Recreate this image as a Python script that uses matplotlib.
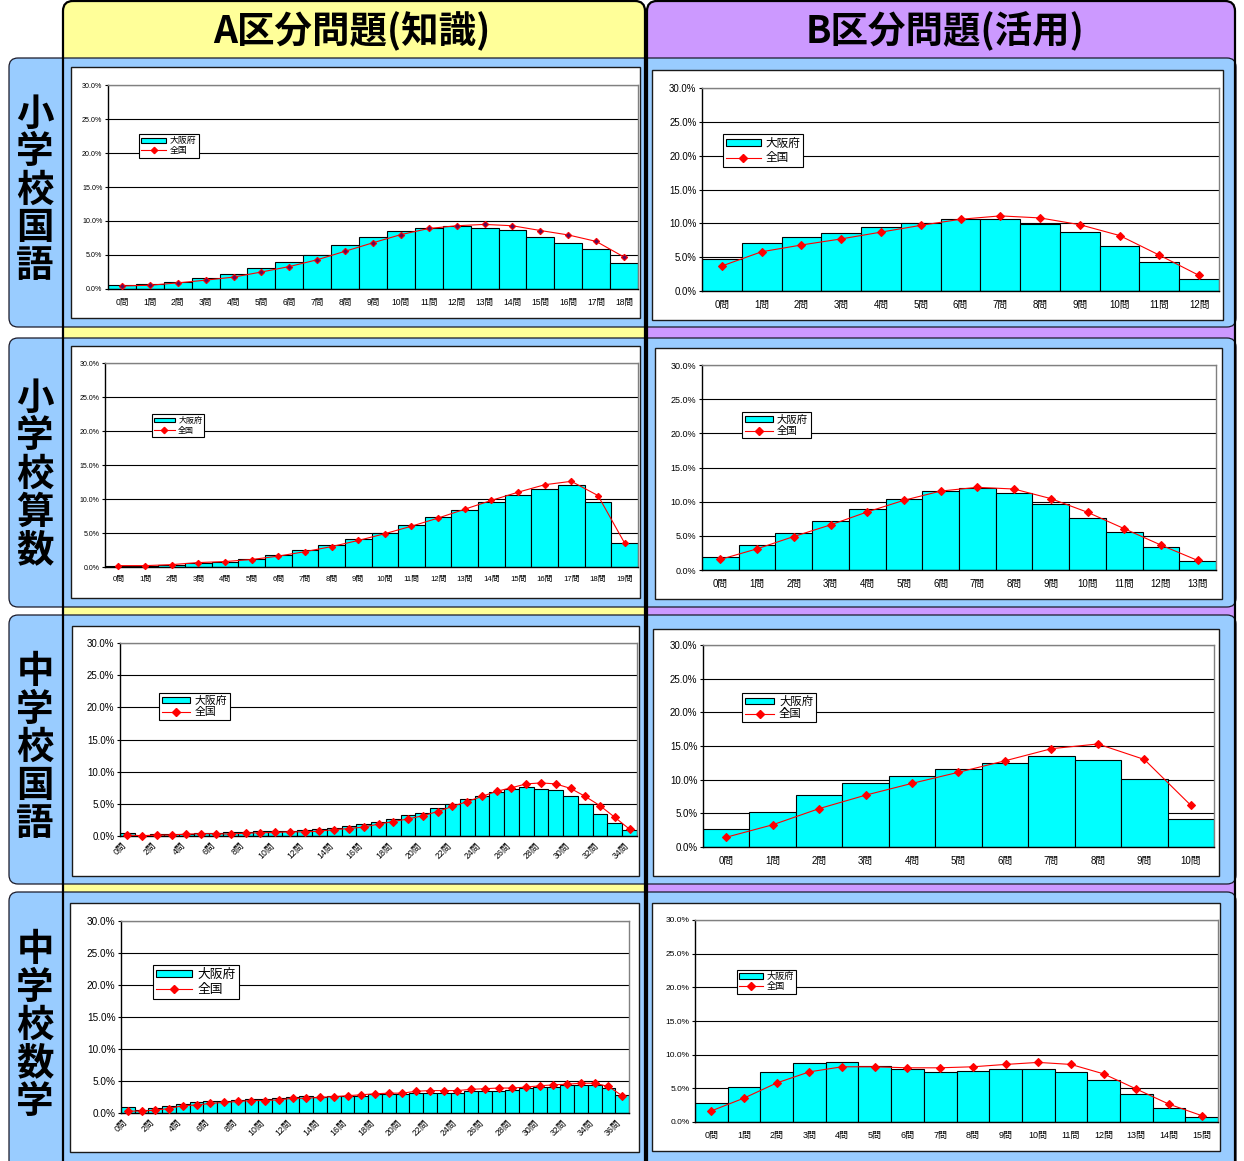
import matplotlib
matplotlib.use("Agg")
import matplotlib.pyplot as plt
from matplotlib import font_manager
from matplotlib.patches import FancyBboxPatch, Rectangle, Patch
from matplotlib.lines import Line2D
from matplotlib.ticker import FixedLocator, FuncFormatter
from matplotlib.transforms import ScaledTranslation
import numpy as np

# ---------------- data (percent of students by number of correct answers) ----------------
col_titles = ["A区分問題(知識)", "B区分問題(活用)"]
row_titles = ["小学校国語", "小学校算数", "中学校国語", "中学校数学"]
series_names = ["大阪府", "全国"]
y_ticks = [0, 5, 10, 15, 20, 25, 30]

# 小学校国語 A (0..18問)
es_ja_a_osaka = [0.6, 0.8, 1.1, 1.6, 2.2, 3.1, 4.0, 5.0, 6.4, 7.6, 8.5, 9.0, 9.2, 9.0, 8.7, 7.7, 6.8, 5.85, 3.8]
es_ja_a_nation = [0.45, 0.55, 0.9, 1.3, 1.75, 2.5, 3.3, 4.3, 5.55, 6.8, 8.0, 8.9, 9.3, 9.5, 9.3, 8.6, 7.95, 7.0, 4.7]
# 小学校国語 B (0..12問)
es_ja_b_osaka = [4.8, 7.1, 8.0, 8.5, 9.4, 10.1, 10.6, 10.6, 9.9, 8.7, 6.7, 4.3, 1.7]
es_ja_b_nation = [3.7, 5.8, 6.8, 7.7, 8.7, 9.7, 10.6, 11.1, 10.8, 9.8, 8.2, 5.3, 2.3]
# 小学校算数 A (0..19問)
es_ma_a_osaka = [0.2, 0.2, 0.3, 0.6, 0.8, 1.2, 1.8, 2.45, 3.2, 4.1, 5.05, 6.2, 7.35, 8.35, 9.6, 10.6, 11.5, 12.0, 9.6, 3.5]
es_ma_a_nation = [0.2, 0.2, 0.35, 0.65, 0.8, 1.1, 1.6, 2.25, 3.0, 3.9, 4.9, 6.0, 7.2, 8.5, 9.8, 11.0, 12.1, 12.6, 10.5, 3.5]
# 小学校算数 B (0..13問)
es_ma_b_osaka = [1.95, 3.6, 5.45, 7.2, 9.0, 10.4, 11.55, 12.05, 11.2, 9.6, 7.65, 5.5, 3.4, 1.35]
es_ma_b_nation = [1.55, 3.1, 4.9, 6.6, 8.5, 10.2, 11.55, 12.1, 11.85, 10.45, 8.45, 6.05, 3.65, 1.4]
# 中学校国語 A (0..34問)
js_ja_a_osaka = [0.4, 0.05, 0.3, 0.35, 0.3, 0.4, 0.4, 0.55, 0.55, 0.7, 0.7, 0.85, 0.9, 1.1, 1.3, 1.6, 1.9, 2.2,
                 2.6, 3.3, 3.6, 4.4, 4.95, 5.7, 6.2, 6.9, 7.3, 7.6, 7.3, 7.1, 6.2, 4.95, 3.4, 2.05, 0.9]
js_ja_a_nation = [0.15, 0.05, 0.15, 0.15, 0.3, 0.35, 0.35, 0.3, 0.45, 0.5, 0.55, 0.65, 0.65, 0.75, 1.0, 1.15, 1.4, 1.85,
                  2.25, 2.65, 3.15, 3.8, 4.6, 5.35, 6.15, 6.95, 7.5, 8.1, 8.25, 8.1, 7.4, 6.15, 4.7, 2.9, 1.05]
# 中学校国語 B (0..10問)
js_ja_b_osaka = [2.7, 5.2, 7.7, 9.45, 10.6, 11.6, 12.5, 13.5, 12.9, 10.05, 4.15]
js_ja_b_nation = [1.45, 3.3, 5.7, 7.7, 9.45, 11.1, 12.8, 14.6, 15.3, 13.0, 6.2]
# 中学校数学 A (0..36問)
js_ma_a_osaka = [0.9, 0.45, 0.75, 1.1, 1.4, 1.7, 1.9, 1.9, 2.05, 2.2, 2.2, 2.35, 2.5, 2.6, 2.5, 2.7, 2.7, 2.7, 2.95,
                 2.95, 2.95, 3.1, 3.2, 3.05, 3.2, 3.45, 3.45, 3.4, 3.65, 3.95, 4.05, 4.05, 4.4, 4.35, 4.35, 3.95, 2.85]
js_ma_a_nation = [0.3, 0.3, 0.45, 0.7, 1.15, 1.25, 1.5, 1.65, 1.8, 1.95, 1.95, 2.05, 2.3, 2.3, 2.45, 2.55, 2.7, 2.85, 3.0,
                  3.1, 3.1, 3.4, 3.5, 3.5, 3.5, 3.7, 3.8, 3.9, 3.9, 4.05, 4.25, 4.4, 4.5, 4.65, 4.65, 4.15, 2.7]
# 中学校数学 B (0..15問)
js_ma_b_osaka = [2.85, 5.15, 7.4, 8.75, 8.85, 8.25, 7.85, 7.4, 7.55, 7.8, 7.8, 7.4, 6.2, 4.1, 2.1, 0.75]
js_ma_b_nation = [1.65, 3.55, 5.8, 7.45, 8.2, 8.2, 8.05, 8.05, 8.2, 8.55, 8.85, 8.55, 7.15, 4.9, 2.65, 0.95]

# ---------------- fonts ----------------
W, H, DPI = 1244, 1161, 100
available = {f.name for f in font_manager.fontManager.ttflist}
narrow = "Liberation Sans Narrow" in available
NUM_FAMILY = (["Liberation Sans Narrow"] if narrow else []) + ["Liberation Sans", "Noto Sans CJK JP", "DejaVu Sans"]
JP_FAMILY = ["Noto Sans CJK JP", "DejaVu Sans"]
plt.rcParams["font.family"] = NUM_FAMILY
yscale = 1.2 if narrow else 1.0

# ---------------- layout / style (pixel boxes: left, top, right, bottom) ----------------
panels = [
    dict(osaka=es_ja_a_osaka, nation=es_ja_a_nation, plot=(108, 85, 638, 289), white=(71, 67, 640, 318),
         leg=(139, 134), yfs=5.1, xfs=6.2, lfs=6.4, hl=2.8, ms=3.2, rot=False, mfc="#5a0a5a"),
    dict(osaka=es_ja_b_osaka, nation=es_ja_b_nation, plot=(702, 88, 1219, 291), white=(652, 70, 1223, 320),
         leg=(723, 134), yfs=6.9, xfs=7.0, lfs=8.4, hl=3.0, ms=3.8, rot=False, mfc="red"),
    dict(osaka=es_ma_a_osaka, nation=es_ma_a_nation, plot=(105, 363, 638, 567), white=(71, 346, 640, 598),
         leg=(152, 414), yfs=5.0, xfs=5.6, lfs=5.8, hl=2.6, ms=3.2, rot=False, mfc="red"),
    dict(osaka=es_ma_b_osaka, nation=es_ma_b_nation, plot=(702, 365, 1216, 570), white=(655, 348, 1222, 599),
         leg=(742, 412), yfs=6.5, xfs=7.0, lfs=7.5, hl=2.7, ms=3.8, rot=False, mfc="red"),
    dict(osaka=js_ja_a_osaka, nation=js_ja_a_nation, plot=(120, 643, 637, 836), white=(72, 626, 639, 876),
         leg=(159, 693), yfs=7.0, xfs=6.3, lfs=7.8, hl=2.6, ms=4.0, rot=True, mfc="red"),
    dict(osaka=js_ja_b_osaka, nation=js_ja_b_nation, plot=(703, 645, 1214, 847), white=(653, 629, 1219, 876),
         leg=(742, 693), yfs=7.0, xfs=7.0, lfs=8.2, hl=2.6, ms=4.0, rot=False, mfc="red"),
    dict(osaka=js_ma_a_osaka, nation=js_ma_a_nation, plot=(121, 921, 629, 1113), white=(70, 903, 639, 1152),
         leg=(153, 965), yfs=7.2, xfs=6.3, lfs=9.2, hl=2.8, ms=4.0, rot=True, mfc="red"),
    dict(osaka=js_ma_b_osaka, nation=js_ma_b_nation, plot=(695, 920, 1218, 1122), white=(652, 903, 1220, 1151),
         leg=(737, 970), yfs=6.0, xfs=6.5, lfs=6.6, hl=2.6, ms=3.8, rot=False, mfc="red"),
]

col_boxes = [(63, 645, "#FFFF99", 352), (647, 1235, "#CC99FF", 945)]
row_boxes = [(58, 327), (338, 607), (615, 884), (892, H + 30)]
row_centers = [190, 474, 747, 1025]

fig = plt.figure(figsize=(W / DPI, H / DPI), dpi=DPI)
fig.patch.set_facecolor("white")
bg = fig.add_axes([0, 0, 1, 1])
bg.set_xlim(0, W)
bg.set_ylim(H, 0)
bg.axis("off")
bg.set_zorder(0)

# column boxes (fill)
for l, r, c, _ in col_boxes:
    bg.add_patch(FancyBboxPatch((l, 1), r - l, H + 40, boxstyle="round,pad=0,rounding_size=10",
                                fc=c, ec="none", zorder=1))
# row boxes
for t, b in row_boxes:
    bg.add_patch(FancyBboxPatch((9, t), 1236 - 9, b - t, boxstyle="round,pad=0,rounding_size=9",
                                fc="#99CCFF", ec="#1a1a2a", lw=0.9, zorder=2))
# column outlines on top
for l, r, c, _ in col_boxes:
    bg.add_patch(FancyBboxPatch((l, 1), r - l, H + 40, boxstyle="round,pad=0,rounding_size=10",
                                fill=False, ec="black", lw=1.6, zorder=3))
# white chart areas
for p in panels:
    l, t, r, b = p["white"]
    bg.add_patch(Rectangle((l, t), r - l, b - t, fc="white", ec="#1a1a1a", lw=1.0, zorder=4))

# header titles
for (l, r, c, cx), title in zip(col_boxes, col_titles):
    bg.text(cx, 31, title, ha="center", va="center", fontsize=27, fontweight="bold",
            family=JP_FAMILY, color="black", zorder=5)

# row titles (vertical)
for cy, title in zip(row_centers, row_titles):
    n = len(title)
    for k, ch in enumerate(title):
        bg.text(35, cy + (k - (n - 1) / 2) * 38, ch, ha="center", va="center", fontsize=27,
                fontweight="bold", family=JP_FAMILY, color="black", zorder=5)

# ---------------- charts ----------------
for p in panels:
    l, t, r, b = p["plot"]
    ax = fig.add_axes([l / W, 1 - b / H, (r - l) / W, (b - t) / H])
    ax.set_zorder(2)
    ax.set_facecolor("white")
    n = len(p["osaka"])
    x = np.arange(n)
    ax.bar(x, p["osaka"], width=1.0, color="#00FFFF", edgecolor="black", linewidth=0.8, zorder=2)
    ax.plot(x, p["nation"], color="red", lw=0.8, marker="D", ms=p["ms"], mfc=p["mfc"], mec="red",
            mew=0.8, zorder=3, clip_on=False)
    ax.set_xlim(-0.5, n - 0.5)
    ax.set_ylim(0, 30)
    ax.yaxis.set_major_locator(FixedLocator(y_ticks))
    ax.yaxis.set_major_formatter(FuncFormatter(lambda v, pos: f"{v:.1f}%"))
    ax.set_axisbelow(True)
    ax.yaxis.grid(True, color="black", lw=0.8)
    ax.xaxis.grid(False)
    for side in ("left", "bottom"):
        ax.spines[side].set_color("black")
        ax.spines[side].set_linewidth(1.0)
    for side in ("top", "right"):
        ax.spines[side].set_color("#808080")
        ax.spines[side].set_linewidth(1.0)
    ax.tick_params(axis="y", length=2.5, width=0.8, pad=1.5, labelsize=p["yfs"] * yscale, colors="black")
    labels = [f"{i}問" for i in range(n)]
    if p["rot"]:
        ticks = x[::2]
        ax.set_xticks(ticks)
        ax.set_xticklabels([labels[i] for i in ticks], rotation=45, ha="right", va="top",
                           rotation_mode="anchor", fontsize=p["xfs"])
        ax.tick_params(axis="x", length=0, pad=3.5)
        for lab in ax.get_xticklabels():
            lab.set_transform(lab.get_transform() + ScaledTranslation(-4 / 72, 0, fig.dpi_scale_trans))
    else:
        ax.set_xticks(x)
        ax.set_xticklabels(labels, fontsize=p["xfs"])
        ax.tick_params(axis="x", length=0, pad=6.5)
    handles = [Patch(fc="#00FFFF", ec="black", lw=0.8),
               Line2D([], [], color="red", lw=0.8, marker="D", ms=p["ms"], mfc="red", mec="red")]
    lx, ly = p["leg"]
    leg = ax.legend(handles, series_names, loc="upper left", bbox_to_anchor=(lx / W, 1 - ly / H),
                    bbox_transform=fig.transFigure, borderaxespad=0, frameon=True, fancybox=False,
                    framealpha=1, edgecolor="black", prop={"family": JP_FAMILY, "size": p["lfs"]},
                    handlelength=p["hl"], handleheight=0.5, handletextpad=0.4, labelspacing=0.12,
                    borderpad=0.25)
    leg.get_frame().set_linewidth(0.8)

fig.savefig("out.png", dpi=DPI, facecolor="white")
